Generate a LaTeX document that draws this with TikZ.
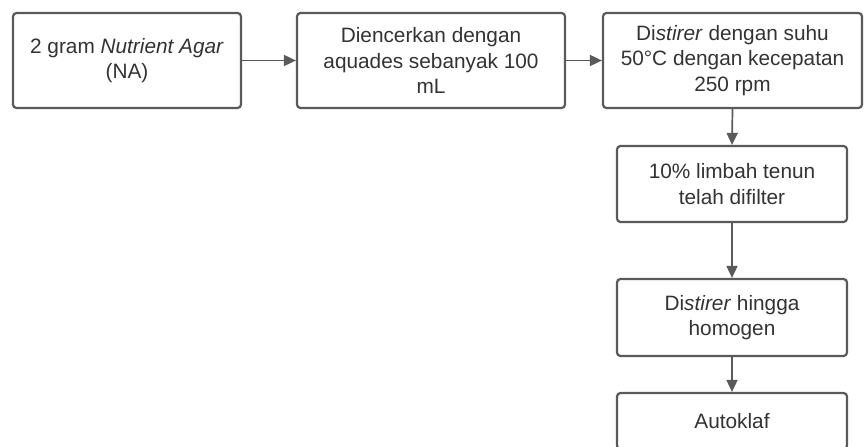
\documentclass[tikz,border=0pt]{standalone}
\usepackage{fontspec}
\setmainfont{Liberation Sans}
\usetikzlibrary{arrows.meta}
\definecolor{edge}{HTML}{5A5A5A}
\definecolor{txt}{HTML}{333333}
\tikzset{
  stepbox/.style={draw=edge, line width=2.2pt, rounded corners=3.5pt, fill=white,
    align=center, text=txt, font=\fontsize{20.8}{25.3}\selectfont, inner sep=0pt},
  flow/.style={draw=edge, line width=1.7pt, -{Triangle[length=12pt,width=11pt]}}
}
\begin{document}
\begin{tikzpicture}[x=1pt,y=-1pt]
\useasboundingbox (0,0) rectangle (865,447);
\clip (0,0) rectangle (865,447);
\fill[white] (0,0) rectangle (865,447);
\node[stepbox, minimum width=228pt, minimum height=95pt] (b1) at (127,60.5)
  {2 gram \textit{Nutrient Agar}\\(NA)};
\node[stepbox, minimum width=268pt, minimum height=95pt] (b2) at (431,60.5)
  {Diencerkan dengan\\aquades sebanyak 100\\mL};
\node[stepbox, minimum width=259pt, minimum height=95pt] (b3) at (732.5,60.5)
  {Di\textit{stirer} dengan suhu\\50°C dengan kecepatan\\250 rpm};
\node[stepbox, minimum width=230pt, minimum height=76pt] (b4) at (732,184)
  {10\% limbah tenun\\telah difilter};
\node[stepbox, minimum width=230pt, minimum height=77pt] (b5) at (732,317.5)
  {Di\textit{stirer} hingga\\homogen};
\node[stepbox, minimum width=230pt, minimum height=56pt] (b6) at (732,421)
  {Autoklaf};
\draw[flow] (b1) -- (b2);
\draw[flow] (b2) -- (b3);
\draw[flow] (b3.south) -- (b4.north);
\draw[flow] (b4) -- (b5);
\draw[flow] (b5) -- (b6);
\end{tikzpicture}
\end{document}
